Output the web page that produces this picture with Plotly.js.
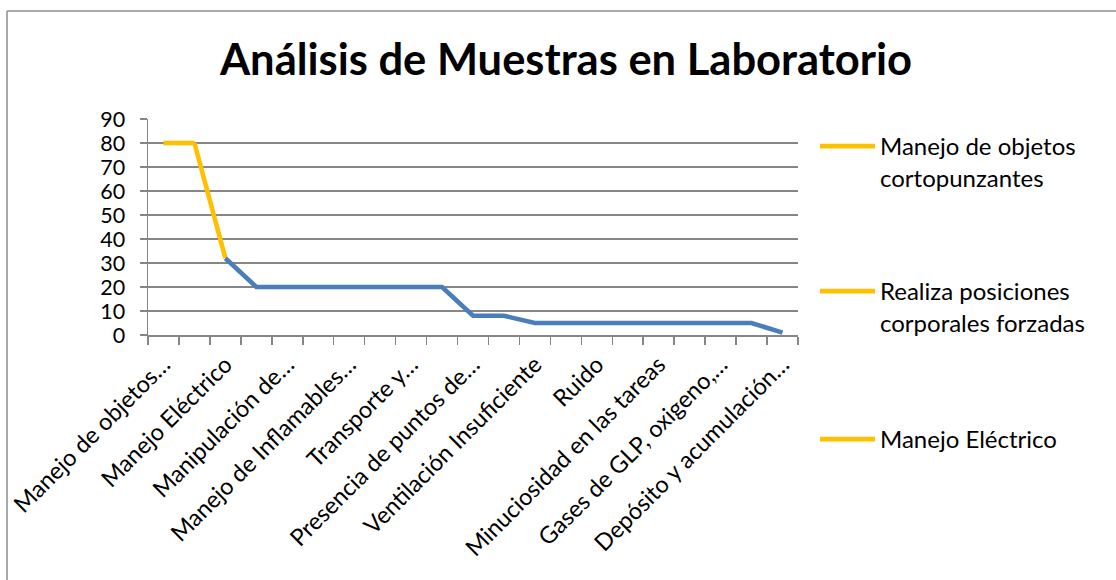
<!DOCTYPE html>
<html>
<head>
<meta charset="utf-8">
<script src="https://cdn.plot.ly/plotly-3.0.1.min.js"></script>
<style>html,body{margin:0;padding:0;background:#fff;}#chart{width:1116px;height:580px;}</style>
</head>
<body>
<div id="chart"></div>
<script>
// ---- data ----
const chartTitle = "Análisis de Muestras en Laboratorio";
const values = [80, 80, 32, 20, 20, 20, 20, 20, 20, 20, 8, 8, 5, 5, 5, 5, 5, 5, 5, 5, 1];
const tickLabels = [
  "Manejo de objetos…", "Manejo Eléctrico", "Manipulación de…", "Manejo de Inflamables…",
  "Transporte y…", "Presencia de puntos de…", "Ventilación Insuficiente", "Ruido",
  "Minuciosidad en las tareas", "Gases de GLP, oxigeno,…", "Depósito y acumulación…"
];
const legendNames = ["Manejo de objetos<br>cortopunzantes", "Realiza posiciones<br>corporales forzadas", "Manejo Eléctrico"];
const yTicks = [0, 10, 20, 30, 40, 50, 60, 70, 80, 90];

// ---- style ----
const ORANGE = "#FFC000", BLUE = "#4A7EBB", GRID = "#868686";
const FONT = "Lato, 'Open Sans', sans-serif";
const idx = values.map((_, i) => i);
const tickVals = tickLabels.map((_, i) => i * 2);

const traces = [];
const legendIds = ["legend", "legend2", "legend3"];
legendNames.forEach((nm, k) => {
  const from = Math.max(0, k - 1);
  traces.push({
    x: idx.slice(from, k + 1), y: values.slice(from, k + 1),
    type: "scatter", mode: "lines", name: nm, legend: legendIds[k],
    line: {color: ORANGE, width: 4.6}, hoverinfo: "skip"
  });
});
traces.push({
  x: idx.slice(2), y: values.slice(2),
  type: "scatter", mode: "lines", name: "rest", showlegend: false,
  line: {color: BLUE, width: 4.6}, hoverinfo: "skip"
});

const L = 148, R = 798, T = 119, B = 335;
const px2x = p => (p - L) / (R - L);
const px2y = p => (B - p) / (B - T);
const legendBase = {
  font: {family: FONT, size: 24, color: "#000"}, bgcolor: "rgba(0,0,0,0)",
  itemwidth: 55, valign: "top", xanchor: "left", yanchor: "top", tracegroupgap: 0
};

const layout = {
  width: 1116, height: 580,
  margin: {l: L, r: 1116 - R, t: T, b: 580 - B, pad: 0},
  paper_bgcolor: "#fff", plot_bgcolor: "#fff",
  font: {family: FONT, size: 23, color: "#000"},
  title: {text: "<b>" + chartTitle + "</b>", font: {family: FONT, size: 43.5, color: "#000"},
          x: 566 / 1116, xanchor: "center", xref: "container",
          y: 1 - 60 / 580, yanchor: "middle", yref: "container"},
  xaxis: {
    range: [-0.5, values.length - 0.5], tickmode: "array", tickvals: tickVals, ticktext: tickLabels,
    tickangle: -45, ticks: "", showgrid: false, zeroline: false,
    showline: true, linecolor: GRID, linewidth: 1.5,
    tickfont: {family: FONT, size: 23.5, color: "#000"}, ticklabelstandoff: 5,
    minor: {tick0: -0.5, dtick: 1, ticks: "outside", ticklen: 8, tickcolor: GRID, tickwidth: 1.5, showgrid: false}
  },
  yaxis: {
    range: [0, 90], tickmode: "array", tickvals: yTicks, ticks: "outside", ticklen: 7,
    tickcolor: GRID, tickwidth: 1.5, showgrid: true, gridcolor: GRID, gridwidth: 1.5,
    zeroline: false, showline: true, linecolor: GRID, linewidth: 1.5,
    tickfont: {family: FONT, size: 21.5, color: "#000"}, ticklabelstandoff: 10
  },
  legend: Object.assign({}, legendBase, {x: px2x(815), y: px2y(124)}),
  legend2: Object.assign({}, legendBase, {x: px2x(815), y: px2y(269)}),
  legend3: Object.assign({}, legendBase, {x: px2x(815), y: px2y(417)}),
  shapes: [
    {type: "line", xref: "paper", yref: "paper", x0: px2x(7), x1: px2x(1120), y0: px2y(11), y1: px2y(11),
     line: {color: "#8C8C8C", width: 1.5}},
    {type: "line", xref: "paper", yref: "paper", x0: px2x(7), x1: px2x(7), y0: px2y(11), y1: px2y(590),
     line: {color: "#8C8C8C", width: 1.5}}
  ],
  showlegend: true
};

Plotly.newPlot("chart", traces, layout, {displayModeBar: false, staticPlot: true});
</script>
</body>
</html>
